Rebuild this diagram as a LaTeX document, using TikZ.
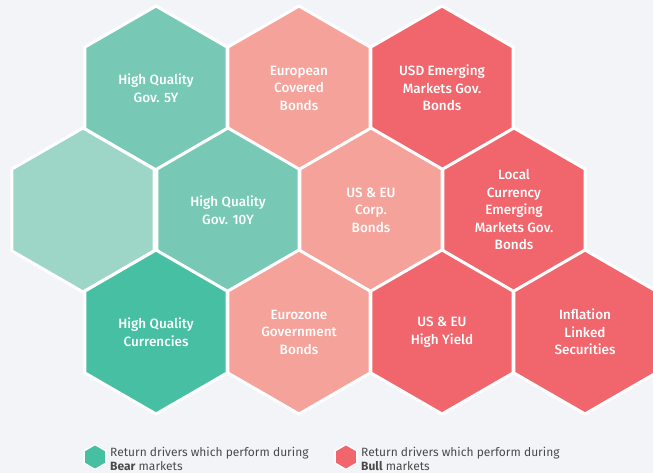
\documentclass[tikz,border=0pt]{standalone}
\usepackage{fontspec}
\setmainfont{Fira Sans}
\newfontfamily\hexfont{Fira Sans Medium}
\usetikzlibrary{shapes.geometric}

\definecolor{bgcol}{HTML}{F3F4F8}
\definecolor{tealmid}{HTML}{77C9B5}
\definecolor{tealpale}{HTML}{9DD5C6}
\definecolor{tealdeep}{HTML}{47BFA3}
\definecolor{salmon}{HTML}{F5A29A}
\definecolor{redish}{HTML}{F0666C}
\definecolor{legtext}{HTML}{4A4A4A}

\begin{document}
\begin{tikzpicture}[node distance=143pt,
    hexa/.style={regular polygon,regular polygon sides=6,shape border rotate=30,
        minimum size=164pt,inner sep=0pt,draw=white,line width=3pt,
        text=white,align=center,font=\hexfont\fontsize{13.5}{17.5}\selectfont},
    minihex/.style={regular polygon,regular polygon sides=6,shape border rotate=30,
        minimum size=25pt,inner sep=0pt,draw=white,line width=1.5pt},
    legend/.style={anchor=west,align=left,text=legtext,inner sep=0pt,
        font=\fontsize{12}{14}\selectfont}]
    \useasboundingbox[fill=bgcol] (0,0) rectangle (653pt,473pt);

    % top row
    \node[hexa,fill=tealmid] (hq5) at (156pt,385pt) {High Quality\\Gov. 5Y};
    \node[hexa,fill=salmon] (ecb) [right of=hq5] {European\\Covered\\Bonds};
    \node[hexa,fill=redish] (usdem) [right of=ecb] {USD Emerging\\Markets Gov.\\Bonds};

    % middle row
    \node[hexa,fill=tealpale] (fade) [below of=hq5,xshift=-73pt,yshift=21pt] {};
    \node[hexa,fill=tealmid] (hq10) [right of=fade,xshift=2pt] {High Quality\\Gov. 10Y};
    \node[hexa,fill=salmon] (uscorp) [right of=hq10] {US \& EU\\Corp.\\Bonds};
    \node[hexa,fill=redish] (lcem) [right of=uscorp] {Local\\Currency\\Emerging\\Markets Gov.\\Bonds};

    % bottom row
    \node[hexa,fill=tealdeep] (hqcur) [below of=hq5,yshift=-101pt] {High Quality\\Currencies};
    \node[hexa,fill=salmon] (ezgov) [right of=hqcur] {Eurozone\\Government\\Bonds};
    \node[hexa,fill=redish] (hy) [right of=ezgov] {US \& EU\\High Yield};
    \node[hexa,fill=redish] (infl) [right of=hy] {Inflation\\Linked\\Securities};

    % legend
    \node[minihex,fill=tealdeep] (bearhex) at (95pt,16pt) {};
    \node[legend] (beartxt) at (110pt,14pt) {Return drivers which perform during\\\textbf{Bear} markets};
    \node[minihex,fill=redish] (bullhex) at (346pt,16pt) {};
    \node[legend] (bulltxt) at (361pt,14pt) {Return drivers which perform during\\\textbf{Bull} markets};
\end{tikzpicture}
\end{document}
